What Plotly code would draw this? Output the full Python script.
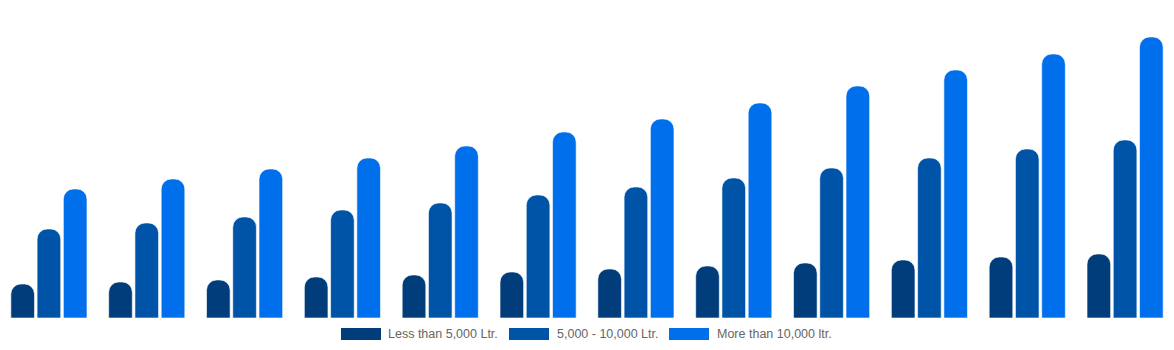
import plotly.graph_objects as go

categories = ["2019", "2020", "2021", "2022", "2023", "2024",
              "2025", "2026", "2027", "2028", "2029", "2030"]
series_names = ["Less than 5,000 Ltr.", "5,000 - 10,000 Ltr.", "More than 10,000 ltr."]
less_5000 = [34, 36, 38, 41, 43, 46, 49, 52, 55, 58, 61, 64]
between_5000_10000 = [89, 95, 101, 108, 115, 123, 131, 140, 150, 160, 169, 178]
more_10000 = [129, 139, 149, 160, 172, 186, 199, 215, 232, 248, 264, 281]
colors = ["#023D7B", "#0054A7", "#006FEB"]

W, H = 1174, 350
MT, MB = 18, 32
plot_h = H - MT - MB

fig = go.Figure()
for name, vals, col in zip(series_names, [less_5000, between_5000_10000, more_10000], colors):
    fig.add_trace(go.Bar(
        x=categories, y=vals, name=name,
        marker=dict(color=col, cornerradius=10, line=dict(color="white", width=0.6)),
        showlegend=False, hoverinfo="x+y+name",
    ))

# custom legend (rectangles + text), positioned in paper coords
legend_items = [(341, 381, 385.5), (509, 549, 554.5), (669, 709, 714.5)]
def px_x(px):
    return px / W
def px_y(py):
    return (H - MB - py) / plot_h

for (x0, x1, tx), name, col in zip(legend_items, series_names, colors):
    fig.add_shape(type="rect", xref="paper", yref="paper",
                  x0=px_x(x0), x1=px_x(x1), y0=px_y(328), y1=px_y(340),
                  fillcolor=col, line=dict(width=0))
    fig.add_annotation(xref="paper", yref="paper", x=px_x(tx), y=px_y(333.5),
                       text=name, showarrow=False, xanchor="left", yanchor="middle",
                       font=dict(family="Liberation Sans, Arial, sans-serif", size=12.5, color="#666666"))

fig.update_layout(
    width=W, height=H,
    margin=dict(l=0, r=0, t=MT, b=MB),
    paper_bgcolor="white", plot_bgcolor="white",
    barmode="group", bargap=0.195, bargroupgap=0.1,
    xaxis=dict(visible=False, type="category"),
    yaxis=dict(visible=False, range=[0, plot_h]),
)

fig.write_html("out.html")
